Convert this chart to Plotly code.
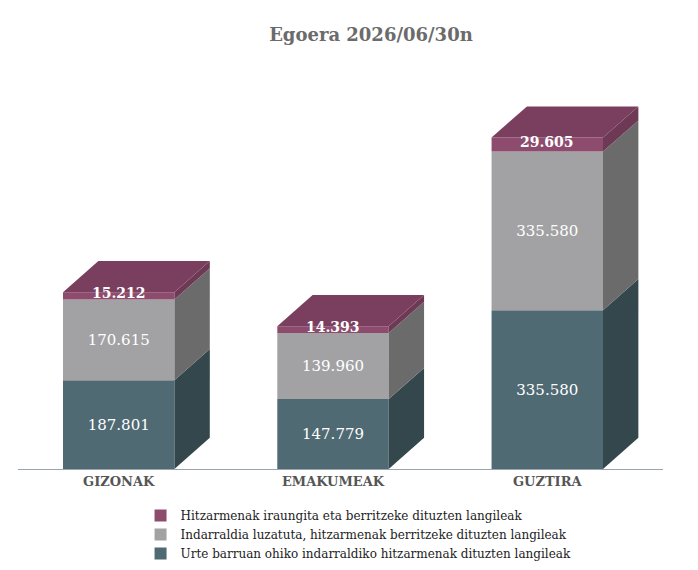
import plotly.graph_objects as go

categories = ["GIZONAK", "EMAKUMEAK", "GUZTIRA"]
urte_barruan = [187801, 147779, 335580]
indarraldia = [170615, 139960, 335580]
iraungita = [15212, 14393, 29605]

series = [
    ("Urte barruan ohiko indarraldiko hitzarmenak dituzten langileak", urte_barruan, "#4f6a73", "#34474d"),
    ("Indarraldia luzatuta, hitzarmenak berritzeke dituzten langileak", indarraldia, "#a2a2a4", "#6b6b6c"),
    ("Hitzarmenak iraungita eta berritzeke dituzten langileak", iraungita, "#8d4c6d", "#6e3954"),
]
top_color = "#7a3f5e"

width = 0.52
dx = 0.165
dy = 66000
font = "DejaVu Serif"


def fmt(v):
    return f"{v:,}".replace(",", ".")


fig = go.Figure()
xs = list(range(len(categories)))
base = [0] * len(categories)
for k, (name, vals, front, side) in enumerate(series):
    for i, v in enumerate(vals):
        x1 = xs[i] + width / 2
        b, t = base[i], base[i] + v
        fig.add_trace(go.Scatter(
            x=[x1, x1 + dx, x1 + dx, x1, x1], y=[b, b + dy, t + dy, t, b],
            fill="toself", fillcolor=side, mode="lines", line=dict(width=0),
            showlegend=False, hoverinfo="skip"))
    last = k == len(series) - 1
    fig.add_trace(go.Bar(
        x=xs, y=vals, base=base, width=width, name=name, marker_color=front,
        marker_line_width=0,
        text=None if last else [fmt(v) for v in vals],
        textposition="none" if last else "inside", insidetextanchor="middle",
        textfont=dict(color="white", size=15, family=font)))
    if last:
        for i, v in enumerate(vals):
            fig.add_annotation(x=xs[i], y=base[i] + v / 2, text=f"<b>{fmt(v)}</b>",
                               showarrow=False, yshift=3,
                               font=dict(color="white", size=14, family=font))
    base = [base[i] + vals[i] for i in range(len(vals))]

# top faces
for i, t in enumerate(base):
    x0 = xs[i] - width / 2
    x1 = xs[i] + width / 2
    fig.add_trace(go.Scatter(
        x=[x0, x0 + dx, x1 + dx, x1, x0], y=[t, t + dy, t + dy, t, t],
        fill="toself", fillcolor=top_color, mode="lines", line=dict(width=0),
        showlegend=False, hoverinfo="skip"))

fig.update_layout(
    width=698, height=570,
    margin=dict(l=10, r=43, t=60, b=107),
    paper_bgcolor="white", plot_bgcolor="white",
    title=dict(text="<b>Egoera 2026/06/30n</b>", x=0.52, y=0.965,
               font=dict(family=font, size=18, color="#6b6b6b")),
    xaxis=dict(range=[-0.47, 2.54], tickvals=xs,
               ticktext=[f"<b>{c}</b>" for c in categories],
               showgrid=False, zeroline=False, showline=True, linecolor="#9aa3b0",
               tickfont=dict(family=font, size=13, color="#555555")),
    yaxis=dict(range=[0, 848000], visible=False),
    legend=dict(orientation="v", x=0.19, y=-0.08, yanchor="top",
                traceorder="reversed",
                font=dict(family=font, size=12, color="#222222")),
    barmode="overlay", showlegend=True,
)

fig.write_html("out.html")
